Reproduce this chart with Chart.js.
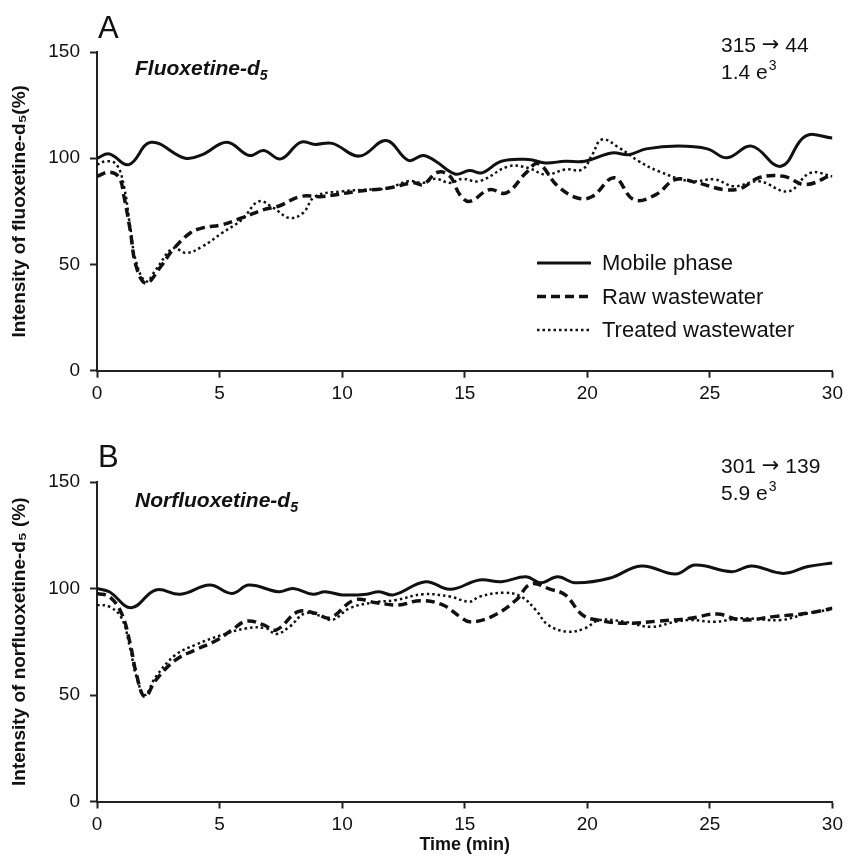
<!DOCTYPE html>
<html>
<head>
<meta charset="utf-8">
<script src="https://cdn.jsdelivr.net/npm/chart.js@4.4.1/dist/chart.umd.min.js"></script>
<style>
  html, body { margin: 0; padding: 0; background: #fff; }
  #wrap { position: relative; width: 848px; height: 862px; }
  canvas { position: absolute; left: 0; }
  #chartA { top: 0; }
  #chartB { top: 430px; }
</style>
</head>
<body>
<div id="wrap">
  <canvas id="chartA" width="848" height="430"></canvas>
  <canvas id="chartB" width="848" height="432"></canvas>
</div>
<script>
// Series labels
const seriesLabels = ['Mobile phase', 'Raw wastewater', 'Treated wastewater'];
const xTicks = [0, 5, 10, 15, 20, 25, 30];
const yTicks = [0, 50, 100, 150];

// Panel A - Fluoxetine-d5 (time in min, intensity in %)
const aMobileT = [0, 0.5, 1.3, 2.2, 3.6, 4.3, 5.3, 6.2, 6.8, 7.5, 8.3, 8.9, 9.6, 10.7, 11.8, 12.7, 13.3, 13.8, 14.6, 15.2, 15.7, 16.5, 17.6, 18.3, 19.1, 19.9, 21.0, 21.7, 22.4, 23.7, 24.9, 25.7, 26.7, 27.9, 28.9, 30];
const aMobileV = [100, 102, 97, 107.5, 100, 101.7, 107.5, 101.3, 103.6, 99.7, 107.5, 106.5, 107, 101, 108.3, 99, 101.3, 98.7, 92.6, 94.2, 93.1, 98.6, 99.4, 97.8, 98.6, 98.6, 102.5, 101.7, 104.4, 105.7, 104.4, 100.2, 105.7, 96.2, 110.4, 109.5];
const aRawT = [0, 0.5, 0.9, 1.1, 1.35, 1.6, 2.0, 2.6, 3.1, 3.8, 4.3, 5.1, 5.9, 6.8, 7.4, 8.3, 9.2, 10.6, 11.9, 12.9, 13.3, 13.9, 14.4, 14.8, 15.2, 16.0, 16.7, 17.5, 18.0, 18.8, 19.6, 20.2, 21.1, 21.9, 22.8, 23.6, 24.5, 25.6, 26.3, 27.0, 28.0, 28.9, 30];
const aRawV = [91.5, 93.4, 91, 82, 66.4, 49, 41.2, 49, 57, 64.8, 67.2, 68.7, 71.9, 75.8, 77.4, 82, 82, 84.4, 86, 88.4, 87.6, 93.4, 91.5, 82.9, 79.7, 85.2, 83.7, 93.1, 97.5, 86.8, 81.3, 82, 90.8, 80.5, 82.9, 90, 88.4, 85.2, 86, 90.8, 91.5, 87.6, 92.3];
const aTreatT = [0, 0.4, 0.8, 1.1, 1.35, 1.6, 2.0, 2.4, 3.1, 3.65, 4.3, 5.1, 5.9, 6.6, 7.2, 7.85, 8.4, 8.9, 10.0, 11.0, 11.9, 12.7, 13.3, 13.8, 14.4, 14.9, 15.6, 16.8, 17.6, 18.3, 19.1, 19.8, 20.2, 20.6, 21.3, 22.1, 22.9, 24.2, 25.2, 26.0, 27.0, 28.2, 29.1, 30];
const aTreatV = [97, 98.6, 97, 86.8, 68, 51, 42, 47.5, 57.6, 55.4, 58.5, 64.8, 71, 79.7, 76.6, 71.9, 74.2, 82, 84.4, 85.2, 86, 89.2, 88.4, 90.3, 88.4, 90.3, 89.2, 96.2, 95.4, 92.3, 94.7, 94.7, 101.7, 108.8, 104.9, 98.6, 93.9, 89.2, 90, 86.8, 89.2, 84.4, 93.1, 91.5];

// Panel B - Norfluoxetine-d5
const bMobileT = [0, 0.5, 1.4, 2.4, 3.4, 4.6, 5.5, 6.2, 7.4, 8.0, 8.8, 9.3, 10.0, 11.0, 11.5, 12.1, 13.4, 14.4, 15.6, 16.5, 17.5, 18.1, 18.8, 19.5, 20.9, 22.2, 23.6, 24.4, 25.9, 26.7, 28.0, 29.0, 30];
const bMobileV = [100, 98.5, 91, 99.3, 97.3, 101.6, 97.7, 101.6, 98.5, 100, 97.3, 98.5, 97, 97.3, 98.5, 97, 103.2, 99.6, 104, 103.2, 105.5, 102.7, 105.5, 102.7, 104.8, 110.6, 106.8, 111, 107.9, 110.6, 107.1, 110.3, 112];
const bRawT = [0, 0.5, 1.0, 1.35, 1.6, 1.95, 2.4, 3.2, 4.0, 4.9, 5.5, 6.1, 6.8, 7.3, 8.2, 8.9, 9.5, 10.5, 11.4, 12.3, 13.2, 14.1, 14.8, 15.2, 16.1, 17.1, 17.7, 18.5, 19.1, 19.8, 20.4, 21.5, 22.9, 24.2, 25.3, 26.3, 27.6, 29.0, 30];
const bRawV = [97.7, 96.2, 88.4, 74.3, 60.2, 49.2, 57, 66.4, 71.1, 75.8, 80.5, 84.7, 82.9, 80.5, 89.1, 88.4, 86.2, 94.6, 93.3, 92.3, 94.3, 92.3, 86.8, 84.4, 86.8, 94.6, 102.1, 99.6, 97, 87.6, 85.2, 83.7, 84.7, 86, 88, 85.2, 86.8, 88.4, 90.7];
const bTreatT = [0, 0.5, 1.0, 1.35, 1.6, 1.95, 2.4, 3.2, 4.0, 5.1, 6.1, 6.9, 7.3, 7.85, 8.5, 9.2, 9.6, 10.3, 11.2, 12.2, 13.3, 14.4, 15.2, 15.6, 16.6, 17.3, 17.9, 18.4, 19.2, 19.9, 20.5, 21.5, 22.6, 23.6, 24.2, 25.2, 26.3, 27.9, 29.0, 30];
const bTreatV = [92.3, 91.5, 86.2, 72, 59, 50, 58.6, 68.8, 73.5, 78.2, 81.3, 81.3, 78.6, 82, 88.4, 86.8, 85.2, 90.7, 93.3, 94.6, 97.3, 96.2, 93.8, 96.2, 98, 96.2, 89.9, 82.9, 79.7, 81.3, 85.2, 84.4, 82, 84.4, 85.2, 84.4, 86, 85.2, 88.4, 90.2];

const FONT = '"Liberation Sans", Arial, Helvetica, sans-serif';
const ARROW_FONT = '"DejaVu Sans", sans-serif';
const INK = '#111';

Chart.defaults.font.family = FONT;
Chart.defaults.color = INK;

const toPoints = (t, v) => t.map((x, i) => ({ x, y: v[i] }));

// line style per series: solid, dashed, dotted
const lineStyles = [
  { borderWidth: 3, borderDash: [] },
  { borderWidth: 3.5, borderDash: [9, 5] },
  { borderWidth: 2.5, borderDash: [2.5, 3] },
];

const makeDatasets = series =>
  series.map(([t, v], i) => ({
    label: seriesLabels[i],
    data: toPoints(t, v),
    showLine: true,
    borderColor: INK,
    borderWidth: lineStyles[i].borderWidth,
    borderDash: lineStyles[i].borderDash,
    borderCapStyle: 'butt',
    pointRadius: 0,
    tension: 0.4,
    fill: false,
  }));

/**
 * Draws the panel letter, compound name, transition and the legend.
 */
const panelText = {
  id: 'panelText',
  afterDraw(chart, args, opts) {
    const { ctx } = chart;
    ctx.save();
    ctx.fillStyle = INK;
    ctx.textAlign = 'left';
    ctx.textBaseline = 'alphabetic';

    ctx.font = `31px ${FONT}`;
    ctx.fillText(opts.letter, 98, opts.letterY);

    // compound name with subscript 5
    ctx.font = `italic bold 21px ${FONT}`;
    ctx.fillText(opts.compound, 135, opts.compoundY);
    let w = ctx.measureText(opts.compound).width;
    ctx.font = `italic bold 14px ${FONT}`;
    ctx.fillText('5', 135 + w, opts.compoundY + 5);

    // transition: the arrow comes from a font that has a full-size one
    const [from, to] = opts.transition.split('→');
    let x = 721;
    ctx.font = `21px ${FONT}`;
    ctx.fillText(from, x, opts.transitionY);
    x += ctx.measureText(from).width;
    ctx.font = `21px ${ARROW_FONT}`;
    ctx.fillText('→', x, opts.transitionY - 1);
    x += ctx.measureText('→').width;
    ctx.font = `21px ${FONT}`;
    ctx.fillText(to, x, opts.transitionY);

    // intensity with superscript 3
    ctx.fillText(opts.intensity, 721, opts.transitionY + 27);
    w = ctx.measureText(opts.intensity).width;
    ctx.font = `14px ${FONT}`;
    ctx.fillText('3', 721 + w + 1, opts.transitionY + 18);

    if (opts.legend) {
      chart.data.datasets.forEach((ds, i) => {
        const y = 263 + i * 33.5;
        ctx.strokeStyle = INK;
        ctx.lineWidth = ds.borderWidth;
        ctx.setLineDash(ds.borderDash);
        ctx.beginPath();
        ctx.moveTo(537, y);
        ctx.lineTo(591, y);
        ctx.stroke();
        ctx.setLineDash([]);
        ctx.font = `22px ${FONT}`;
        ctx.textBaseline = 'middle';
        ctx.fillText(ds.label, 602, y + 1);
      });
    }
    ctx.restore();
  },
};

const axisGrid = {
  display: true,
  drawOnChartArea: false,
  drawTicks: true,
  tickLength: 7,
  tickWidth: 2,
  tickColor: '#222',
};

const buildChart = (id, series, yTitle, xTitle, xHeight, texts) => {
  const ctx = document.getElementById(id).getContext('2d');
  return new Chart(ctx, {
    type: 'scatter',
    data: { datasets: makeDatasets(series) },
    plugins: [panelText],
    options: {
      responsive: false,
      animation: false,
      layout: { padding: { top: 52, right: 13, left: 0, bottom: 0 } },
      scales: {
        x: {
          type: 'linear',
          min: 0,
          max: 30,
          afterBuildTicks: scale => {
            scale.ticks = xTicks.map(value => ({ value }));
          },
          afterFit: scale => {
            scale.height = xHeight;
          },
          ticks: { font: { size: 19 }, color: INK, padding: 5, maxRotation: 0 },
          grid: axisGrid,
          border: { display: true, color: '#222', width: 2 },
          title: {
            display: !!xTitle,
            text: xTitle || '',
            font: { size: 18, weight: 'bold' },
            color: INK,
            padding: { top: 4, bottom: 6 },
          },
        },
        y: {
          type: 'linear',
          min: 0,
          max: 150,
          afterBuildTicks: scale => {
            scale.ticks = yTicks.map(value => ({ value }));
          },
          afterFit: scale => {
            scale.width = 97;
          },
          ticks: { font: { size: 19 }, color: INK, padding: 10 },
          grid: axisGrid,
          border: { display: true, color: '#222', width: 2 },
          title: {
            display: true,
            text: yTitle,
            font: { size: 19, weight: 'bold' },
            color: INK,
            padding: { top: 8, bottom: 0 },
          },
        },
      },
      plugins: {
        legend: { display: false },
        tooltip: { enabled: false },
        panelText: texts,
      },
    },
  });
};

buildChart(
  'chartA',
  [[aMobileT, aMobileV], [aRawT, aRawV], [aTreatT, aTreatV]],
  'Intensity of fluoxetine-d₅(%)',
  null,
  430 - 370.7,
  { letter: 'A', letterY: 38, compound: 'Fluoxetine-d', compoundY: 75, transition: '315 → 44', transitionY: 52, intensity: '1.4 e', legend: true },
);

buildChart(
  'chartB',
  [[bMobileT, bMobileV], [bRawT, bRawV], [bTreatT, bTreatV]],
  'Intensity of norfluoxetine-d₅ (%)',
  'Time (min)',
  432 - 371.5,
  { letter: 'B', letterY: 37, compound: 'Norfluoxetine-d', compoundY: 77, transition: '301 → 139', transitionY: 43, intensity: '5.9 e', legend: false },
);
</script>
</body>
</html>
